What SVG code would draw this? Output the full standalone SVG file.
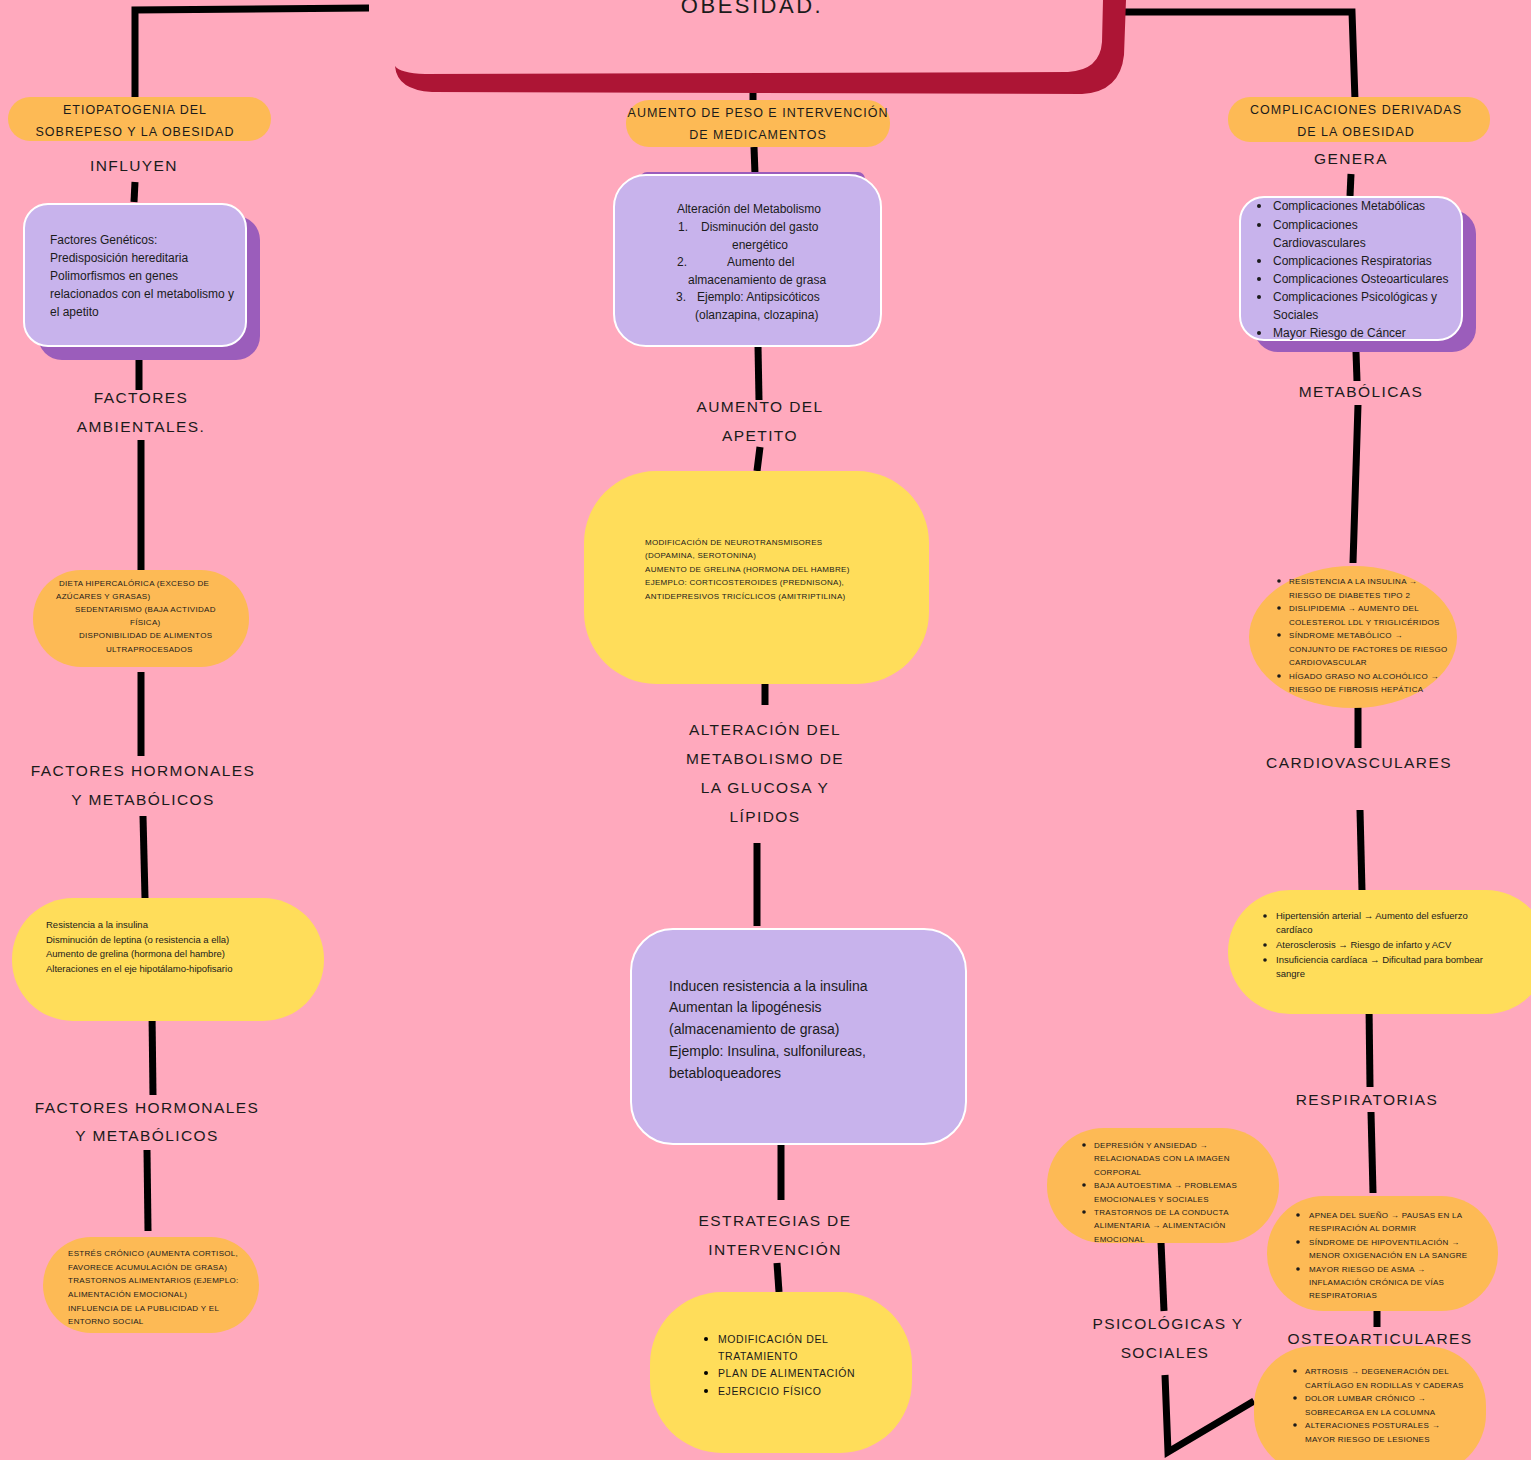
<svg xmlns="http://www.w3.org/2000/svg" width="1531" height="1460" viewBox="0 0 1531 1460">
<style>
.bg{fill:#FFA9BD}
.ln{stroke:#000;stroke-width:7;fill:none;stroke-linecap:butt;stroke-linejoin:miter}
.org{fill:#FDBA55}
.yel{fill:#FFDD5A}
.pur{fill:#C8B3EC;stroke:#fff;stroke-width:2}
.sh{fill:#9B5DBB}
text{font-family:"Liberation Sans",Arial,sans-serif;fill:#1b1b1b}
.lab{font-size:15.5px;letter-spacing:1.4px;text-anchor:middle}
.hd{font-size:12.5px;letter-spacing:1px;text-anchor:middle}
.cap{font-size:8px;letter-spacing:0.3px}
.s12{font-size:12px}
.s10{font-size:9.5px}
.s14{font-size:14px}
.s11{font-size:10.5px;letter-spacing:0.6px}
</style>
<rect class="bg" x="0" y="0" width="1531" height="1460"/>

<g id="connectors">
<polyline class="ln" points="369,8 135,10 135,100"/>
<polyline class="ln" points="1120,12 1352,12 1355,100"/>
<line class="ln" x1="753" y1="88" x2="753" y2="101"/>
<line class="ln" x1="135" y1="182" x2="134" y2="202"/>
<line class="ln" x1="139" y1="360" x2="139" y2="390"/>
<line class="ln" x1="141" y1="440" x2="141" y2="571"/>
<line class="ln" x1="141" y1="672" x2="141" y2="756"/>
<line class="ln" x1="143" y1="816" x2="145" y2="898"/>
<line class="ln" x1="152" y1="1013" x2="153" y2="1095"/>
<line class="ln" x1="147" y1="1150" x2="148" y2="1231"/>
<line class="ln" x1="754" y1="147" x2="755" y2="174"/>
<line class="ln" x1="758" y1="346" x2="759" y2="400"/>
<line class="ln" x1="760" y1="447" x2="757" y2="471"/>
<line class="ln" x1="765" y1="684" x2="765" y2="705"/>
<line class="ln" x1="757" y1="843" x2="757" y2="926"/>
<line class="ln" x1="781" y1="1118" x2="781" y2="1200"/>
<line class="ln" x1="777" y1="1263" x2="779" y2="1292"/>
<line class="ln" x1="1351" y1="174" x2="1350" y2="196"/>
<line class="ln" x1="1356" y1="352" x2="1357" y2="381"/>
<line class="ln" x1="1358" y1="405" x2="1353" y2="563"/>
<line class="ln" x1="1358" y1="707" x2="1358" y2="748"/>
<line class="ln" x1="1360" y1="810" x2="1362" y2="891"/>
<line class="ln" x1="1369" y1="1006" x2="1370" y2="1087"/>
<line class="ln" x1="1371" y1="1112" x2="1373" y2="1193"/>
<line class="ln" x1="1377" y1="1310" x2="1377" y2="1327"/>
<line class="ln" x1="1161" y1="1242" x2="1164" y2="1311"/>
<polyline class="ln" points="1165,1375 1168,1452 1254,1401"/>
</g>

<g id="title">
<path fill="#AD1535" d="M395,66 Q397,90 432,92 L1082,94 Q1120,92 1124,55 L1126,0 L1103,0 L1102,42 Q1100,70 1068,72 L425,74 Q400,73 395,66 Z"/>
<text x="752" y="13" style="font-size:22px;letter-spacing:2.5px;text-anchor:middle">OBESIDAD.</text>
</g>

<g id="n-etio">
<rect class="org" x="8" y="97" width="263" height="44" rx="22"/>
<text class="hd" x="135" y="114">ETIOPATOGENIA DEL</text>
<text class="hd" x="135" y="136">SOBREPESO Y LA OBESIDAD</text>
</g>
<g id="l-influyen"><text class="lab" x="134" y="171">INFLUYEN</text></g>

<g id="n-geneticos">
<rect class="sh" x="38" y="216" width="222" height="144" rx="24"/>
<rect class="pur" x="24" y="204" width="222" height="142" rx="24"/>
<text class="s12" x="50" y="244">Factores Genéticos:</text>
<text class="s12" x="50" y="262">Predisposición hereditaria</text>
<text class="s12" x="50" y="280"> Polimorfismos en genes</text>
<text class="s12" x="50" y="298">relacionados con el metabolismo y</text>
<text class="s12" x="50" y="316">el apetito</text>
</g>

<g id="l-ambientales">
<text class="lab" x="141" y="403">FACTORES</text>
<text class="lab" x="141" y="432">AMBIENTALES.</text>
</g>

<g id="n-ambientales">
<rect class="org" x="33" y="570" width="216" height="97" rx="48"/>
<text class="cap" x="59" y="586">DIETA HIPERCALÓRICA (EXCESO DE</text>
<text class="cap" x="56" y="599">AZÚCARES Y GRASAS)</text>
<text class="cap" x="75" y="612">SEDENTARISMO (BAJA ACTIVIDAD</text>
<text class="cap" x="130" y="625">FÍSICA)</text>
<text class="cap" x="79" y="638">DISPONIBILIDAD DE ALIMENTOS</text>
<text class="cap" x="106" y="652">ULTRAPROCESADOS</text>
</g>

<g id="l-hormonales1">
<text class="lab" x="143" y="776">FACTORES HORMONALES</text>
<text class="lab" x="143" y="805">Y METABÓLICOS</text>
</g>

<g id="n-hormonales">
<rect class="yel" x="12" y="898" width="312" height="123" rx="61"/>
<text class="s10" x="46" y="928">Resistencia a la insulina</text>
<text class="s10" x="46" y="943">Disminución de leptina (o resistencia a ella)</text>
<text class="s10" x="46" y="957"> Aumento de grelina (hormona del hambre)</text>
<text class="s10" x="46" y="972"> Alteraciones en el eje hipotálamo-hipofisario</text>
</g>

<g id="l-hormonales2">
<text class="lab" x="147" y="1113">FACTORES HORMONALES</text>
<text class="lab" x="147" y="1141">Y METABÓLICOS</text>
</g>

<g id="n-estres">
<rect class="org" x="43" y="1237" width="216" height="96" rx="48"/>
<text class="cap" x="68" y="1256"> ESTRÉS CRÓNICO (AUMENTA CORTISOL,</text>
<text class="cap" x="68" y="1270">FAVORECE ACUMULACIÓN DE GRASA)</text>
<text class="cap" x="68" y="1283">TRASTORNOS ALIMENTARIOS (EJEMPLO:</text>
<text class="cap" x="68" y="1297">ALIMENTACIÓN EMOCIONAL)</text>
<text class="cap" x="68" y="1311">INFLUENCIA DE LA PUBLICIDAD Y EL</text>
<text class="cap" x="68" y="1324">ENTORNO SOCIAL</text>
</g>

<g id="n-medicamentos">
<rect class="org" x="626" y="100" width="264" height="47" rx="23"/>
<text class="hd" x="758" y="117">AUMENTO DE PESO E INTERVENCIÓN</text>
<text class="hd" x="758" y="139">DE MEDICAMENTOS</text>
</g>

<g id="n-metabolismo">
<rect class="sh" x="640" y="172" width="225" height="14" rx="7"/>
<rect class="pur" x="614" y="175" width="267" height="171" rx="32"/>
<text class="s12" x="749" y="213" style="text-anchor:middle">Alteración del Metabolismo</text>
<text class="s12" x="678" y="231">1.</text>
<text class="s12" x="701" y="231">Disminución del gasto</text>
<text class="s12" x="760" y="249" style="text-anchor:middle">energético</text>
<text class="s12" x="677" y="266">2.</text>
<text class="s12" x="727" y="266">Aumento del</text>
<text class="s12" x="688" y="284">almacenamiento de grasa</text>
<text class="s12" x="676" y="301">3.</text>
<text class="s12" x="697" y="301">Ejemplo: Antipsicóticos</text>
<text class="s12" x="695" y="319">(olanzapina, clozapina)</text>
</g>

<g id="l-apetito">
<text class="lab" x="760" y="412">AUMENTO DEL</text>
<text class="lab" x="760" y="441">APETITO</text>
</g>

<g id="n-apetito">
<rect class="yel" x="584" y="471" width="345" height="213" rx="72"/>
<text class="cap" x="645" y="545">MODIFICACIÓN DE NEUROTRANSMISORES</text>
<text class="cap" x="645" y="558">(DOPAMINA, SEROTONINA)</text>
<text class="cap" x="645" y="572"> AUMENTO DE GRELINA (HORMONA DEL HAMBRE)</text>
<text class="cap" x="645" y="585"> EJEMPLO: CORTICOSTEROIDES (PREDNISONA),</text>
<text class="cap" x="645" y="599">ANTIDEPRESIVOS TRICÍCLICOS (AMITRIPTILINA)</text>
</g>

<g id="l-glucosa">
<text class="lab" x="765" y="735">ALTERACIÓN DEL</text>
<text class="lab" x="765" y="764">METABOLISMO DE</text>
<text class="lab" x="765" y="793">LA GLUCOSA Y</text>
<text class="lab" x="765" y="822">LÍPIDOS</text>
</g>

<g id="n-insulina">
<rect class="pur" x="631" y="929" width="335" height="215" rx="42"/>
<text class="s14" x="669" y="991"> Inducen resistencia a la insulina</text>
<text class="s14" x="669" y="1012">Aumentan la lipogénesis</text>
<text class="s14" x="669" y="1034">(almacenamiento de grasa)</text>
<text class="s14" x="669" y="1056"> Ejemplo: Insulina, sulfonilureas,</text>
<text class="s14" x="669" y="1078">betabloqueadores</text>
</g>

<g id="l-estrategias">
<text class="lab" x="775" y="1226">ESTRATEGIAS DE</text>
<text class="lab" x="775" y="1255">INTERVENCIÓN</text>
</g>

<g id="n-estrategias">
<rect class="yel" x="650" y="1292" width="262" height="161" rx="72"/>
<circle cx="706" cy="1339" r="2"/>
<circle cx="706" cy="1373" r="2"/>
<circle cx="706" cy="1391" r="2"/>
<text class="s11" x="718" y="1343">MODIFICACIÓN DEL</text>
<text class="s11" x="718" y="1360">TRATAMIENTO</text>
<text class="s11" x="718" y="1377">PLAN DE ALIMENTACIÓN</text>
<text class="s11" x="718" y="1395">EJERCICIO FÍSICO</text>
</g>

<g id="n-complicaciones">
<rect class="org" x="1228" y="97" width="262" height="45" rx="22"/>
<text class="hd" x="1356" y="114">COMPLICACIONES DERIVADAS</text>
<text class="hd" x="1356" y="136">DE LA OBESIDAD</text>
</g>
<g id="l-genera"><text class="lab" x="1351" y="164">GENERA</text></g>

<g id="n-lista">
<rect class="sh" x="1254" y="210" width="222" height="142" rx="24"/>
<rect class="pur" x="1240" y="197" width="222" height="143" rx="24"/>
<g fill="#1b1b1b">
<circle cx="1259" cy="206" r="2"/><circle cx="1259" cy="225" r="2"/><circle cx="1259" cy="261" r="2"/>
<circle cx="1259" cy="279" r="2"/><circle cx="1259" cy="297" r="2"/><circle cx="1259" cy="333" r="2"/>
</g>
<text class="s12" x="1273" y="210">Complicaciones Metabólicas</text>
<text class="s12" x="1273" y="229">Complicaciones</text>
<text class="s12" x="1273" y="247">Cardiovasculares</text>
<text class="s12" x="1273" y="265">Complicaciones Respiratorias</text>
<text class="s12" x="1273" y="283">Complicaciones Osteoarticulares</text>
<text class="s12" x="1273" y="301">Complicaciones Psicológicas y</text>
<text class="s12" x="1273" y="319">Sociales</text>
<text class="s12" x="1273" y="337">Mayor Riesgo de Cáncer</text>
</g>

<g id="l-metabolicas"><text class="lab" x="1361" y="397">METABÓLICAS</text></g>

<g id="n-metabolicas">
<ellipse class="org" cx="1353" cy="637" rx="104" ry="71"/>
<g fill="#1b1b1b">
<circle cx="1279" cy="581" r="1.8"/><circle cx="1279" cy="608" r="1.8"/><circle cx="1279" cy="635" r="1.8"/><circle cx="1279" cy="676" r="1.8"/>
</g>
<text class="cap" x="1289" y="584">RESISTENCIA A LA INSULINA →</text>
<text class="cap" x="1289" y="598">RIESGO DE DIABETES TIPO 2</text>
<text class="cap" x="1289" y="611">DISLIPIDEMIA → AUMENTO DEL</text>
<text class="cap" x="1289" y="625">COLESTEROL LDL Y TRIGLICÉRIDOS</text>
<text class="cap" x="1289" y="638">SÍNDROME METABÓLICO →</text>
<text class="cap" x="1289" y="652">CONJUNTO DE FACTORES DE RIESGO</text>
<text class="cap" x="1289" y="665">CARDIOVASCULAR</text>
<text class="cap" x="1289" y="679">HÍGADO GRASO NO ALCOHÓLICO →</text>
<text class="cap" x="1289" y="692">RIESGO DE FIBROSIS HEPÁTICA</text>
</g>

<g id="l-cardio"><text class="lab" x="1359" y="768">CARDIOVASCULARES</text></g>

<g id="n-cardio">
<rect class="yel" x="1228" y="890" width="320" height="124" rx="62"/>
<g fill="#1b1b1b">
<circle cx="1265" cy="916" r="1.8"/><circle cx="1265" cy="945" r="1.8"/><circle cx="1265" cy="960" r="1.8"/>
</g>
<text class="s10" x="1276" y="919">Hipertensión arterial → Aumento del esfuerzo</text>
<text class="s10" x="1276" y="933">cardíaco</text>
<text class="s10" x="1276" y="948">Aterosclerosis → Riesgo de infarto y ACV</text>
<text class="s10" x="1276" y="963">Insuficiencia cardíaca → Dificultad para bombear</text>
<text class="s10" x="1276" y="977">sangre</text>
</g>

<g id="l-resp"><text class="lab" x="1367" y="1105">RESPIRATORIAS</text></g>

<g id="n-resp">
<rect class="org" x="1267" y="1196" width="231" height="115" rx="57"/>
<g fill="#1b1b1b">
<circle cx="1298" cy="1215" r="1.8"/><circle cx="1298" cy="1242" r="1.8"/><circle cx="1298" cy="1269" r="1.8"/>
</g>
<text class="cap" x="1309" y="1218"> APNEA DEL SUEÑO → PAUSAS EN LA</text>
<text class="cap" x="1309" y="1231">RESPIRACIÓN AL DORMIR</text>
<text class="cap" x="1309" y="1245">SÍNDROME DE HIPOVENTILACIÓN →</text>
<text class="cap" x="1309" y="1258">MENOR OXIGENACIÓN EN LA SANGRE</text>
<text class="cap" x="1309" y="1272">MAYOR RIESGO DE ASMA →</text>
<text class="cap" x="1309" y="1285">INFLAMACIÓN CRÓNICA DE VÍAS</text>
<text class="cap" x="1309" y="1298">RESPIRATORIAS</text>
</g>

<g id="n-osteo">
<rect class="org" x="1254" y="1346" width="232" height="128" rx="60"/>
<g fill="#1b1b1b">
<circle cx="1295" cy="1371" r="1.8"/><circle cx="1295" cy="1398" r="1.8"/><circle cx="1295" cy="1425" r="1.8"/>
</g>
<text class="cap" x="1305" y="1374">ARTROSIS → DEGENERACIÓN DEL</text>
<text class="cap" x="1305" y="1388">CARTÍLAGO EN RODILLAS Y CADERAS</text>
<text class="cap" x="1305" y="1401">DOLOR LUMBAR CRÓNICO →</text>
<text class="cap" x="1305" y="1415">SOBRECARGA EN LA COLUMNA</text>
<text class="cap" x="1305" y="1428">ALTERACIONES POSTURALES →</text>
<text class="cap" x="1305" y="1442">MAYOR RIESGO DE LESIONES</text>
</g>

<g id="l-osteo"><text class="lab" x="1380" y="1344">OSTEOARTICULARES</text></g>

<g id="n-psico">
<rect class="org" x="1047" y="1128" width="232" height="115" rx="57"/>
<g fill="#1b1b1b">
<circle cx="1084" cy="1145" r="1.8"/><circle cx="1084" cy="1185" r="1.8"/><circle cx="1084" cy="1212" r="1.8"/>
</g>
<text class="cap" x="1094" y="1148">DEPRESIÓN Y ANSIEDAD →</text>
<text class="cap" x="1094" y="1161">RELACIONADAS CON LA IMAGEN</text>
<text class="cap" x="1094" y="1175">CORPORAL</text>
<text class="cap" x="1094" y="1188">BAJA AUTOESTIMA → PROBLEMAS</text>
<text class="cap" x="1094" y="1202">EMOCIONALES Y SOCIALES</text>
<text class="cap" x="1094" y="1215">TRASTORNOS DE LA CONDUCTA</text>
<text class="cap" x="1094" y="1228">ALIMENTARIA → ALIMENTACIÓN</text>
<text class="cap" x="1094" y="1242">EMOCIONAL</text>
</g>

<g id="l-psico">
<text class="lab" x="1168" y="1329">PSICOLÓGICAS Y</text>
<text class="lab" x="1165" y="1358">SOCIALES</text>
</g>
</svg>
